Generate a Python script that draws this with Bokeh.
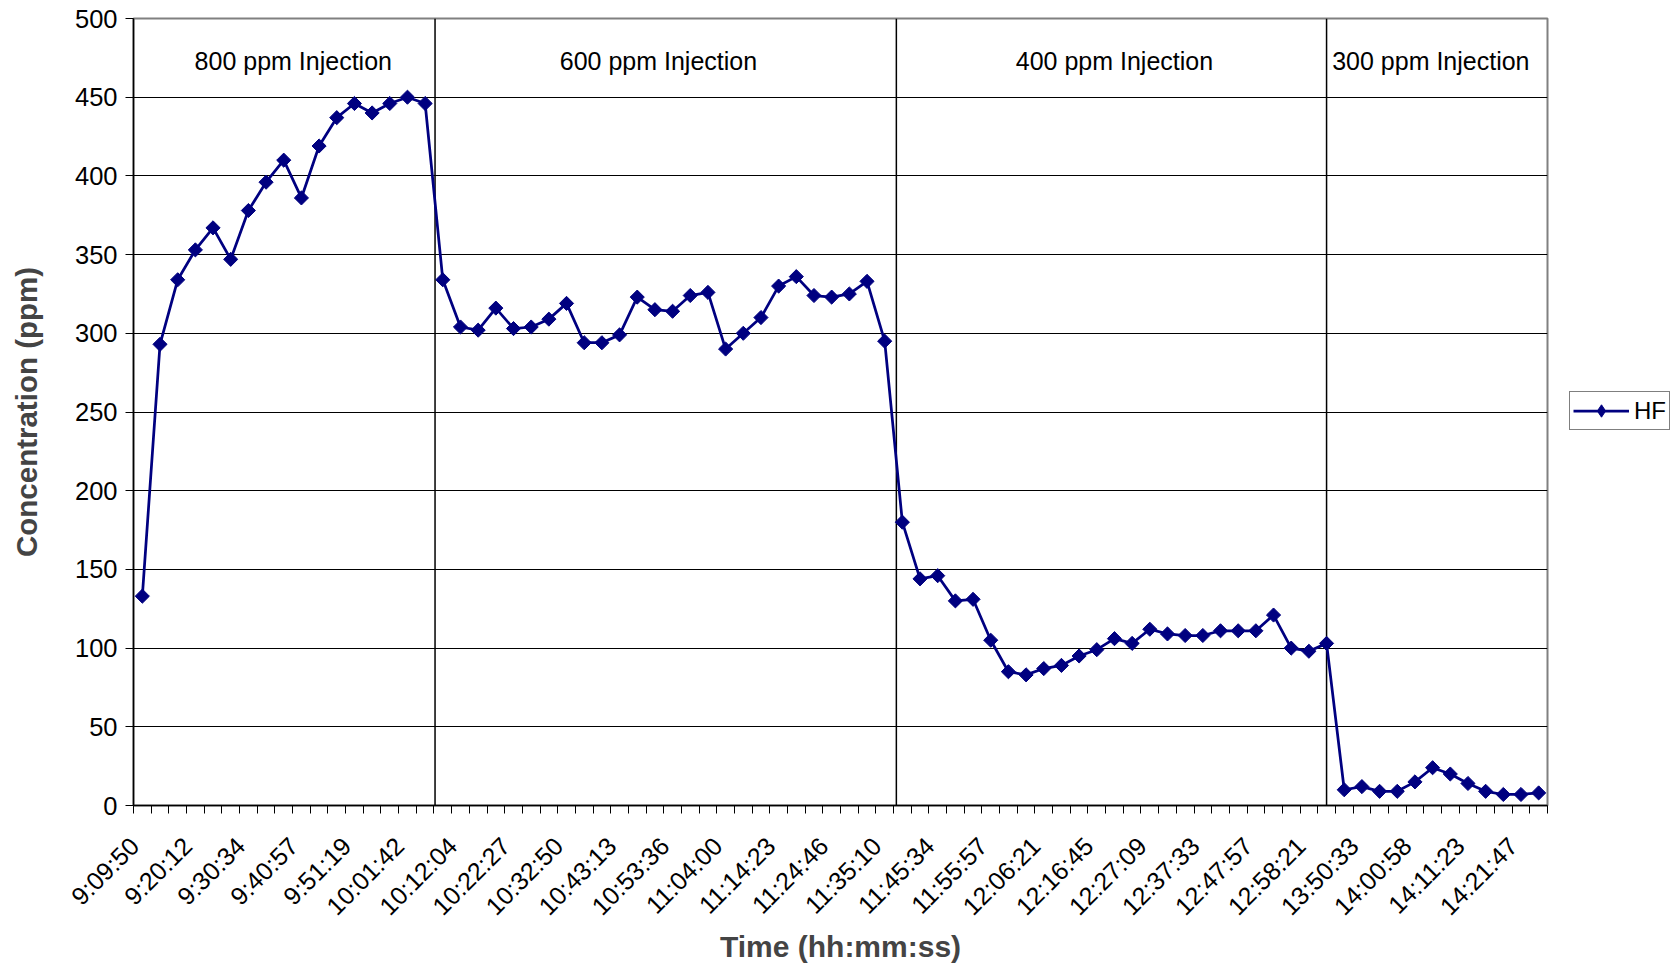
import math
from bokeh.plotting import figure
from bokeh.models import Range1d, FixedTicker, Legend, LegendItem, ColumnDataSource
from bokeh.core.properties import value
from bokeh.embed import file_html
from bokeh.resources import INLINE

# ---- data ----
hf_ppm = [133, 293, 334, 353, 367, 347, 378, 396, 410, 386, 419, 437, 446, 440, 446, 450, 446,
          334, 304, 302, 316, 303, 304, 309, 319, 294, 294, 299, 323, 315, 314, 324, 326, 290,
          300, 310, 330, 336, 324, 323, 325, 333, 295,
          180, 144, 146, 130, 131, 105, 85, 83, 87, 89, 95, 99, 106, 103, 112, 109, 108, 108,
          111, 111, 111, 121, 100, 98, 103,
          10, 12, 9, 9, 15, 24, 20, 14, 9, 7, 7, 8]
time_labels = ["9:09:50", "9:20:12", "9:30:34", "9:40:57", "9:51:19", "10:01:42", "10:12:04",
               "10:22:27", "10:32:50", "10:43:13", "10:53:36", "11:04:00", "11:14:23", "11:24:46",
               "11:35:10", "11:45:34", "11:55:57", "12:06:21", "12:16:45", "12:27:09", "12:37:33",
               "12:47:57", "12:58:21", "13:50:33", "14:00:58", "14:11:23", "14:21:47"]
label_every = 3
phase_names = ["800 ppm Injection", "600 ppm Injection", "400 ppm Injection", "300 ppm Injection"]
phase_label_x = [8.54, 29.2, 55.0, 72.9]
phase_bounds = [16.56, 42.66, 67.0]
y_ticks = list(range(0, 501, 50))

n = len(hf_ppm)
idx = list(range(n))
FONT = "Liberation Sans"
NAVY = "#000080"
LABEL_SHIFT = -0.45  # rotated tick labels sit a little left of their category

p = figure(frame_width=1414, frame_height=787,
           x_range=Range1d(-0.5, n - 0.5), y_range=Range1d(0, 500),
           output_backend="svg", toolbar_location=None,
           min_border_left=133, min_border_top=18, min_border_right=125, min_border_bottom=0)
p.background_fill_color = "white"
p.border_fill_color = "white"
p.outline_line_color = "#808080"
p.outline_line_width = 2

# grid
p.xgrid.grid_line_color = None
p.ygrid.grid_line_color = "black"
p.ygrid.grid_line_width = 1
p.ygrid.ticker = FixedTicker(ticks=y_ticks)

# y axis
p.yaxis.ticker = FixedTicker(ticks=y_ticks)
p.yaxis.axis_label = "Concentration (ppm)"
p.yaxis.axis_label_text_font = FONT
p.yaxis.axis_label_text_font_style = "bold"
p.yaxis.axis_label_text_font_size = "29.5px"
p.yaxis.axis_label_standoff = 29
p.yaxis.major_label_text_font = FONT
p.yaxis.major_label_text_font_size = "25.5px"
p.yaxis.major_label_text_color = "black"
p.yaxis.major_label_standoff = 8
p.yaxis.major_tick_out = 8
p.yaxis.major_tick_in = 0
p.yaxis.minor_tick_out = 0
p.yaxis.minor_tick_in = 0
p.yaxis.axis_line_color = "black"
p.yaxis.axis_line_width = 1.5

# x axis
label_pos = [round(i + LABEL_SHIFT, 2) for i in range(0, n, label_every)]
p.xaxis.ticker = FixedTicker(ticks=label_pos, minor_ticks=[i - 0.5 for i in range(n + 1)])
p.xaxis.major_label_overrides = {pos: lab for pos, lab in zip(label_pos, time_labels)}
p.xaxis.major_label_orientation = math.pi / 4
p.xaxis.major_label_text_font = FONT
p.xaxis.major_label_text_font_size = "25px"
p.xaxis.major_label_text_color = "black"
p.xaxis.major_label_standoff = 28
p.xaxis.major_tick_out = 0
p.xaxis.major_tick_in = 0
p.xaxis.minor_tick_out = 8
p.xaxis.minor_tick_in = 0
p.xaxis.minor_tick_line_color = "black"
p.xaxis.axis_line_color = "black"
p.xaxis.axis_line_width = 1.5
p.xaxis.axis_label = "Time (hh:mm:ss)"
p.xaxis.axis_label_text_font = FONT
p.xaxis.axis_label_text_font_style = "bold"
p.xaxis.axis_label_text_font_size = "30px"
p.xaxis.axis_label_standoff = -3

# phase dividers
p.segment(x0=phase_bounds, y0=[0] * len(phase_bounds), x1=phase_bounds, y1=[500] * len(phase_bounds),
          line_color="black", line_width=1.5)

# phase labels
p.text(x=phase_label_x, y=[473] * len(phase_label_x), text=phase_names,
       text_font=value(FONT), text_font_size="25px", text_color="black",
       text_align="center", text_baseline="middle")

src = ColumnDataSource(dict(x=idx, y=hf_ppm))
r_line = p.line("x", "y", source=src, line_color=NAVY, line_width=2.75)
r_mark = p.scatter("x", "y", source=src, marker="square", angle=math.pi / 4, size=10,
                   fill_color=NAVY, line_color=NAVY)
# diamond swatch used only for the legend entry (a single non-drawable NaN row)
r_key = p.scatter(x=[float("nan")], y=[float("nan")], marker="diamond", size=17,
                  fill_color=NAVY, line_color=NAVY)

legend = Legend(items=[LegendItem(label="HF", renderers=[r_line, r_key])],
                location=(22, 375), orientation="vertical")
legend.label_text_font = FONT
legend.label_text_font_size = "24px"
legend.label_text_color = "black"
legend.border_line_color = "black"
legend.border_line_width = 1
legend.background_fill_color = "white"
legend.glyph_width = 56
legend.glyph_height = 31
legend.label_standoff = 5
legend.padding = 3
legend.margin = 0
legend.spacing = 0
p.add_layout(legend, "right")

open("out.html", "w").write(file_html(p, INLINE))
